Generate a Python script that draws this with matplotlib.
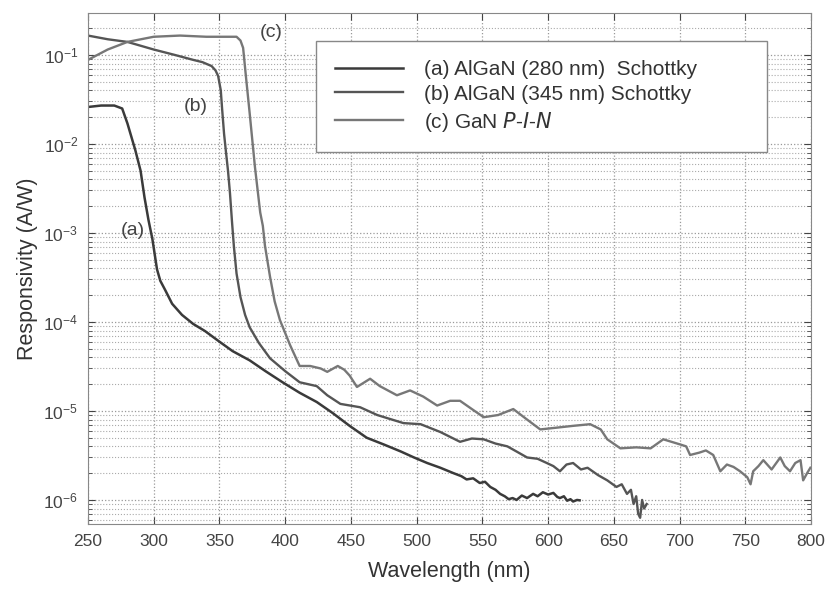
import matplotlib
matplotlib.use("Agg")
import matplotlib.pyplot as plt
from matplotlib.ticker import LogLocator, NullFormatter

plt.rcParams['font.family'] = ['Liberation Sans', 'DejaVu Sans']

# (a) AlGaN (280 nm) Schottky
wl_a = [250, 260, 270, 276, 280, 286, 290, 293, 296, 299, 302.5, 305, 308.6, 314, 321.5,
        330, 339, 350, 360, 373, 385, 398, 411, 424, 436, 449, 462, 475, 488, 498,
        508, 518, 528, 534, 538, 543, 548, 552, 556, 560, 563.5, 567, 570, 573, 576,
        580, 584, 588.6, 592, 596, 600, 604, 607, 609, 612, 614.5, 617, 619, 622, 624]
resp_a = [2.6e-2, 2.7e-2, 2.7e-2, 2.5e-2, 1.7e-2, 8.5e-3, 5.0e-3, 2.5e-3, 1.4e-3, 8.5e-4,
          3.9e-4, 2.9e-4, 2.3e-4, 1.6e-4, 1.2e-4, 9.5e-5, 7.9e-5, 6.0e-5, 4.7e-5, 3.7e-5,
          2.8e-5, 2.1e-5, 1.6e-5, 1.26e-5, 9.5e-6, 6.8e-6, 5.0e-6, 4.2e-6, 3.5e-6, 3.0e-6,
          2.6e-6, 2.3e-6, 2.0e-6, 1.85e-6, 1.7e-6, 1.75e-6, 1.55e-6, 1.6e-6, 1.4e-6, 1.3e-6,
          1.17e-6, 1.1e-6, 1.02e-6, 1.05e-6, 1.0e-6, 1.12e-6, 1.05e-6, 1.17e-6, 1.1e-6, 1.22e-6,
          1.15e-6, 1.2e-6, 1.08e-6, 1.05e-6, 1.1e-6, 0.98e-6, 1.02e-6, 0.96e-6, 1.0e-6, 0.99e-6]

# (b) AlGaN (345 nm) Schottky
wl_b = [250, 265, 280, 300, 316, 330, 337, 344, 347, 349, 351, 352, 353.5, 355, 356.5,
        358, 359.6, 361, 363, 366, 369.5, 373, 380, 388.5, 400, 411, 424, 432, 442, 457,
        470, 480, 490, 503, 518, 533, 542, 551, 560, 569, 576, 584, 592, 599, 604, 609,
        614, 619, 625, 630, 638, 645, 652, 656, 660, 663, 665, 667, 668.5, 670, 671.5, 673, 675]
resp_b = [1.65e-1, 1.5e-1, 1.4e-1, 1.15e-1, 1.0e-1, 8.8e-2, 8.3e-2, 7.5e-2, 6.7e-2, 5.8e-2,
          4.0e-2, 2.5e-2, 1.3e-2, 8.0e-3, 5.0e-3, 2.8e-3, 1.3e-3, 7.0e-4, 3.5e-4, 1.9e-4,
          1.2e-4, 8.7e-5, 5.8e-5, 3.9e-5, 2.8e-5, 2.1e-5, 1.9e-5, 1.5e-5, 1.2e-5, 1.1e-5,
          9.0e-6, 8.1e-6, 7.3e-6, 7.1e-6, 5.8e-6, 4.5e-6, 4.9e-6, 4.8e-6, 4.3e-6, 4.0e-6,
          3.5e-6, 3.0e-6, 2.9e-6, 2.6e-6, 2.4e-6, 2.1e-6, 2.5e-6, 2.6e-6, 2.2e-6, 2.3e-6,
          1.9e-6, 1.66e-6, 1.4e-6, 1.5e-6, 1.17e-6, 1.3e-6, 0.9e-6, 1.1e-6, 0.7e-6, 0.63e-6,
          1.0e-6, 0.8e-6, 0.9e-6]

# (c) GaN P-I-N
wl_c = [250, 265, 280, 300, 320, 340, 355, 363, 366, 368, 370, 373, 375, 377, 381, 383,
        384.6, 388.5, 392, 396, 403.7, 411, 419, 427, 432, 440, 445, 449, 454.6, 464.6,
        472, 485, 495, 505, 515.6, 525.5, 533, 542, 551, 562, 573.5, 584, 594, 607, 619,
        632, 640, 645, 655, 667, 678, 687.6, 700.5, 705, 708, 715, 720, 725.6, 731, 736,
        741, 746, 751.5, 754, 756, 760, 763.7, 770, 776.6, 780, 784, 788, 792, 794, 797, 799.5]
resp_c = [8.8e-2, 1.15e-1, 1.4e-1, 1.6e-1, 1.65e-1, 1.6e-1, 1.6e-1, 1.6e-1, 1.45e-1, 1.2e-1,
          6.0e-2, 2.2e-2, 1.1e-2, 5.5e-3, 1.7e-3, 1.2e-3, 7.2e-4, 3.2e-4, 1.7e-4, 1.05e-4,
          5.5e-5, 3.2e-5, 3.2e-5, 3.0e-5, 2.75e-5, 3.2e-5, 2.9e-5, 2.5e-5, 1.86e-5, 2.3e-5,
          1.9e-5, 1.5e-5, 1.7e-5, 1.45e-5, 1.15e-5, 1.3e-5, 1.3e-5, 1.05e-5, 8.5e-6, 9.0e-6,
          1.05e-5, 8.0e-6, 6.2e-6, 6.5e-6, 6.8e-6, 7.1e-6, 6.2e-6, 4.8e-6, 3.8e-6, 3.9e-6,
          3.8e-6, 4.8e-6, 4.2e-6, 4.0e-6, 3.2e-6, 3.4e-6, 3.6e-6, 3.2e-6, 2.1e-6, 2.5e-6,
          2.35e-6, 2.1e-6, 1.8e-6, 1.5e-6, 2.1e-6, 2.4e-6, 2.8e-6, 2.2e-6, 3.0e-6, 2.4e-6,
          2.1e-6, 2.6e-6, 2.8e-6, 1.66e-6, 2.0e-6, 2.3e-6]

labels = ["(a) AlGaN (280 nm)  Schottky", "(b) AlGaN (345 nm) Schottky", "(c) GaN $\\it{P}$-$\\it{I}$-$\\it{N}$"]
x_ticks = [250, 300, 350, 400, 450, 500, 550, 600, 650, 700, 750, 800]

fig = plt.figure(figsize=(8.27, 5.90), dpi=100)
ax = fig.add_axes([0.1064, 0.1119, 0.8743, 0.8661])

ax.plot(wl_a, resp_a, color="#3a3a3a", lw=1.8, label=labels[0])
ax.plot(wl_b, resp_b, color="#555555", lw=1.7, label=labels[1])
ax.plot(wl_c, resp_c, color="#777777", lw=1.7, label=labels[2])

ax.set_yscale("log")
ax.set_xlim(250, 800)
ax.set_ylim(5.37e-7, 0.296)
ax.set_xticks(x_ticks)
ax.yaxis.set_major_locator(LogLocator(base=10, numticks=10))
ax.yaxis.set_minor_locator(LogLocator(base=10, subs=range(2, 10), numticks=20))
ax.yaxis.set_minor_formatter(NullFormatter())

ax.grid(True, which="major", linestyle=":", color="#999999", lw=0.9)
ax.grid(True, which="minor", axis="y", linestyle=":", color="#aaaaaa", lw=0.8)
ax.tick_params(which="both", direction="in", top=True, right=True, labelsize=12.5, colors="#444444")
ax.tick_params(which="major", length=5, pad=7)
ax.tick_params(which="minor", length=3)
for s in ax.spines.values():
    s.set_color("#888888")

ax.set_xlabel("Wavelength (nm)", fontsize=15.5, color="#333333", labelpad=9)
ax.set_ylabel("Responsivity (A/W)", fontsize=15.5, color="#333333", labelpad=4)

ax.text(284, 1.07e-3, "(a)", fontsize=14, color="#444444", ha="center", va="center")
ax.text(332, 2.6e-2, "(b)", fontsize=14, color="#444444", ha="center", va="center")
ax.text(389, 1.8e-1, "(c)", fontsize=14, color="#444444", ha="center", va="center")

leg = ax.legend(loc="upper left", bbox_to_anchor=(0.315, 0.736, 0.624, 0.209), mode="expand",
                fontsize=15, frameon=True, fancybox=False, framealpha=1, edgecolor="#888888",
                handlelength=3.3, handletextpad=1.0, borderpad=0.9, labelspacing=0.28,
                borderaxespad=0)
leg.get_frame().set_linewidth(1.0)
for t in leg.get_texts():
    t.set_color("#333333")

fig.savefig("out.png", dpi=100)
